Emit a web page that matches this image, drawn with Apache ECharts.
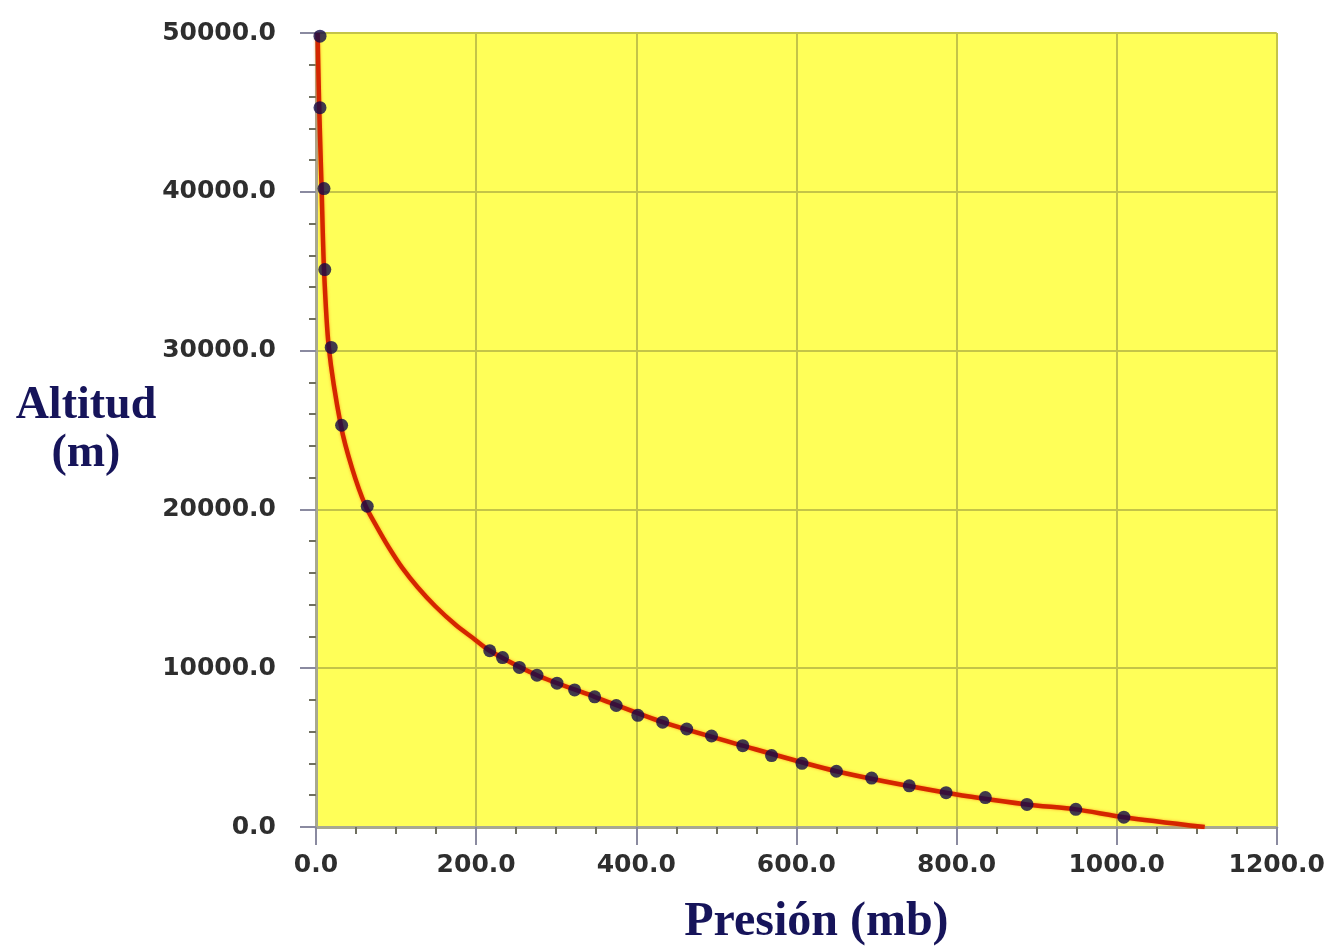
<!DOCTYPE html>
<html>
<head>
<meta charset="utf-8">
<script src="https://cdn.jsdelivr.net/npm/echarts@6/dist/echarts.min.js"></script>
<style>
html,body{margin:0;padding:0;background:#ffffff;}
#chart{width:1328px;height:952px;}
</style>
</head>
<body>
<div id="chart"></div>
<script>
// Measured data points (pressure mb, altitude m)
const pointPressure = [5, 5, 10, 11, 19, 32, 64,
  217, 233, 254, 276, 301, 323, 348, 375, 402, 433, 463, 494, 533, 569, 607, 650, 694, 741, 787, 836, 888, 949, 1009];
const pointAltitude = [49800, 45300, 40200, 35100, 30200, 25300, 20200,
  11100, 10670, 10050, 9560, 9060, 8630, 8200, 7650, 7030, 6600, 6170, 5730, 5120, 4500, 4010, 3510, 3080, 2590, 2160, 1850, 1420, 1110, 620];

// Fitted curve
const curvePressure = [2, 4, 7, 10, 16, 31, 45, 62, 76, 91, 108, 127, 149, 175, 196, 217, 276, 348, 433, 533, 650, 787, 888, 949, 1009, 1110];
const curveAltitude = [50000, 45300, 40200, 35100, 30200, 25300, 22600, 20200, 18900, 17600, 16300, 15100, 13900, 12700, 11900, 11100, 9560, 8200, 6600, 5120, 3510, 2160, 1420, 1110, 620, 0];

const xTicks = [0, 200, 400, 600, 800, 1000, 1200];
const yTicks = [0, 10000, 20000, 30000, 40000, 50000];

const chart = echarts.init(document.getElementById('chart'));
const labelFont = {fontFamily: 'DejaVu Sans', fontWeight: 'bold', fontSize: 25, color: '#2e2e2e'};
const titleColor = '#16145a';

chart.setOption({
  animation: false,
  backgroundColor: '#ffffff',
  grid: {left: 316, right: 50, top: 33, bottom: 107, show: true, backgroundColor: '#ffff58', borderWidth: 0},
  xAxis: {
    type: 'value', min: xTicks[0], max: xTicks[xTicks.length - 1], interval: 200,
    name: 'Presión (mb)', nameLocation: 'middle', nameGap: 72,
    nameTextStyle: {fontFamily: 'Liberation Serif', fontWeight: 'bold', fontSize: 48, color: titleColor, padding: [0, 0, 0, 40]},
    axisLine: {show: true, onZero: false, lineStyle: {color: '#a8a890', width: 3}},
    axisTick: {show: true, length: 18, lineStyle: {color: '#8a8aa0', width: 2}},
    minorTick: {show: true, splitNumber: 4, length: 7, lineStyle: {color: '#707060', width: 2}},
    axisLabel: Object.assign({margin: 26, formatter: v => v.toFixed(1)}, labelFont),
    splitLine: {show: true, lineStyle: {color: '#c4c448', width: 2}},
    minorSplitLine: {show: false}
  },
  yAxis: {
    type: 'value', min: yTicks[0], max: yTicks[yTicks.length - 1], interval: 10000,
    name: 'Altitud\n(m)', nameLocation: 'middle', nameGap: 228, nameRotate: 0,
    nameTextStyle: {fontFamily: 'Liberation Serif', fontWeight: 'bold', fontSize: 46, color: titleColor, align: 'center', verticalAlign: 'middle', lineHeight: 48},
    axisLine: {show: true, onZero: false, lineStyle: {color: '#a8a890', width: 3}},
    axisTick: {show: true, length: 16, lineStyle: {color: '#8a8aa0', width: 2}},
    minorTick: {show: true, splitNumber: 5, length: 7, lineStyle: {color: '#707060', width: 2}},
    axisLabel: Object.assign({margin: 40, formatter: v => v.toFixed(1)}, labelFont),
    splitLine: {show: true, lineStyle: {color: '#c4c448', width: 2}},
    minorSplitLine: {show: false}
  },
  series: [
    {
      type: 'line', name: 'curva', smooth: 0.25, showSymbol: false, z: 2,
      data: curvePressure.map((p, i) => [p, curveAltitude[i]]),
      lineStyle: {color: '#d42600', width: 4.5, shadowColor: 'rgba(255,120,0,0.7)', shadowBlur: 3}
    },
    {
      type: 'scatter', name: 'datos', symbol: 'circle', symbolSize: 13, z: 3,
      data: pointPressure.map((p, i) => [p, pointAltitude[i]]),
      itemStyle: {color: '#120a48'}
    }
  ]
});
</script>
</body>
</html>
